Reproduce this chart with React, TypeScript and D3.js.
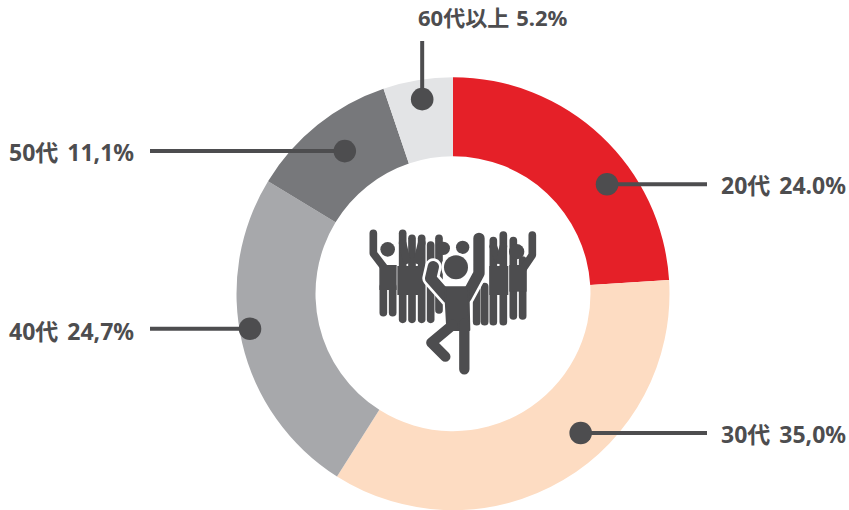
import React from "react";
import * as d3 from "d3";

// Data
const ages = ["20代", "30代", "40代", "50代", "60代以上"];
const shares = [24.0, 35.0, 24.7, 11.1, 5.2];
const shareLabels = ["24.0%", "35,0%", "24,7%", "11,1%", "5.2%"];
const colors = ["#e52028", "#fddcc2", "#a7a8ab", "#77787b", "#e3e4e6"];

const width = 849;
const height = 510;
const cx = 453;
const cy = 293.7;
const outerR = 216.5;
const innerR = 137.5;
const ink = "#4d4d4f";

// Leader layout, one entry per slice: dot position in polar form, then the far end of the line
const dotAngles = [54.6, 137.5, 260.2, 322.8, 351];
const dotRadii = [189, 189, 206, 179, 197];
const leaderEnds = [[707, null], [707, null], [150, null], [150, null], [null, 41]];
const labelPos = [
  { x: 721, y: 194, size: 23 },
  { x: 721, y: 443, size: 23 },
  { x: 9, y: 340, size: 23 },
  { x: 9, y: 161, size: 23 },
  { x: 418, y: 26, size: 22 },
];

// Crowd icon, drawn in the 3x space of a 220x180 box
const backBars = [
  [188, 70, 188, 328], [216, 85, 216, 328], [245, 85, 245, 328], [272, 105, 272, 328],
  [297, 85, 297, 300], [410, 240, 410, 335], [434, 230, 434, 335], [460, 92, 460, 335],
  [490, 75, 490, 335], [520, 92, 520, 318], [548, 150, 548, 318],
];
const sideHeads = [[143, 118, 22], [530, 125, 23], [310, 115, 20], [368, 112, 20]];
const sideArms = [
  "M100,70 L100,130 L132,172",
  "M577,75 L577,135 L548,178",
  "M188,100 L200,150",
  "M245,100 L232,150",
  "M460,110 L475,150",
  "M490,110 L480,150",
];
const sideBodies = [
  "M118,165 H170 V240 H118 Z",
  "M508,165 H560 V245 H508 Z",
  "M172,168 H248 V255 H172 Z",
  "M448,168 H505 V255 H448 Z",
];
const sideLegs = [[130, 230, 130, 308], [158, 230, 158, 308]];

const mainArms = "M417,85 L417,190 L378,262 M280,170 L272,205 L325,265";
const mainBody = "M315,232 H385 L388,360 H322 Z";
const mainLegs = "M373,340 L373,478 M338,345 L274,398 L316,440";

const CrowdIcon = () => (
  <g transform="translate(340,210) scale(0.3333)" fill="none" strokeLinecap="round" strokeLinejoin="round">
    <g stroke={ink} strokeWidth={23}>
      {backBars.map((b, i) => (
        <line key={i} x1={b[0]} y1={b[1]} x2={b[2]} y2={b[3]} />
      ))}
      {sideLegs.map((b, i) => (
        <line key={i} x1={b[0]} y1={b[1]} x2={b[2]} y2={b[3]} />
      ))}
      {sideArms.map((d, i) => (
        <path key={i} d={d} />
      ))}
    </g>
    {sideBodies.map((d, i) => (
      <path key={i} d={d} fill={ink} />
    ))}
    {sideHeads.map((h, i) => (
      <circle key={i} cx={h[0]} cy={h[1]} r={h[2]} fill={ink} />
    ))}
    {/* white halo round the front figure */}
    <g stroke="#fff">
      <path d={mainArms} strokeWidth={50} />
      <path d={mainBody} fill="#fff" strokeWidth={18} />
      <path d={mainLegs} strokeWidth={46} />
      <circle cx={348} cy={172} r={35} fill="#fff" strokeWidth={18} />
    </g>
    <g stroke={ink}>
      <path d={mainArms} strokeWidth={34} />
      <path d={mainBody} fill={ink} strokeWidth={6} />
      <path d={mainLegs} strokeWidth={31} />
    </g>
    <circle cx={348} cy={172} r={36} fill={ink} />
  </g>
);

const App = () => {
  const pie = d3.pie<number>().sort(null).value((d) => d);
  const arc = d3.arc<d3.PieArcDatum<number>>().innerRadius(innerR).outerRadius(outerR);
  const slices = pie(shares);

  const dots = dotAngles.map((a, i) => {
    const rad = (a * Math.PI) / 180;
    return { x: cx + dotRadii[i] * Math.sin(rad), y: cy - dotRadii[i] * Math.cos(rad) };
  });

  return (
    <svg
      width={width}
      height={height}
      style={{ position: "absolute", left: 0, top: 0 }}
      fontFamily="'Noto Sans', 'Noto Sans CJK JP', sans-serif"
    >
      <g transform={`translate(${cx},${cy})`}>
        {slices.map((s, i) => (
          <path key={ages[i]} d={arc(s) ?? ""} fill={colors[i]} />
        ))}
      </g>
      <CrowdIcon />
      {dots.map((d, i) => (
        <g key={ages[i]}>
          <line
            x1={d.x}
            y1={d.y}
            x2={leaderEnds[i][0] ?? d.x}
            y2={leaderEnds[i][1] ?? d.y}
            stroke={ink}
            strokeWidth={4}
          />
          <circle cx={d.x} cy={d.y} r={11.3} fill={ink} />
          <text
            x={labelPos[i].x}
            y={labelPos[i].y}
            fontSize={labelPos[i].size}
            fontWeight={700}
            fill={ink}
          >
            {ages[i]}
            <tspan dx={i === 4 ? 7 : 9}>{shareLabels[i]}</tspan>
          </text>
        </g>
      ))}
    </svg>
  );
};

export default App;
